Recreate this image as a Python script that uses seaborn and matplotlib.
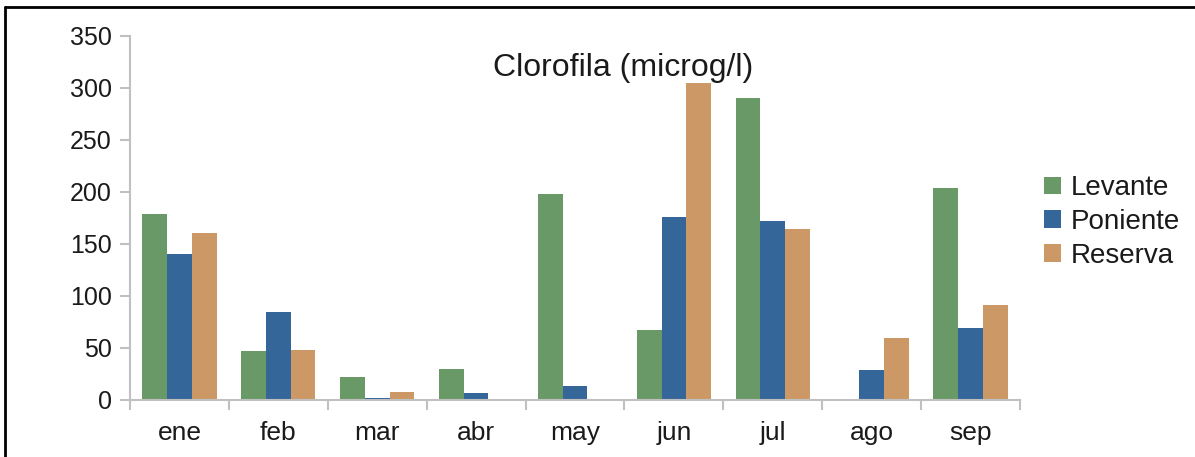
import pandas as pd
import matplotlib.pyplot as plt
import seaborn as sns
from matplotlib.lines import Line2D
from matplotlib.ticker import FixedLocator

meses = ['ene', 'feb', 'mar', 'abr', 'may', 'jun', 'jul', 'ago', 'sep']
levante = [179, 47, 22, 30, 198, 67, 290, 0, 204]
poniente = [140, 84, 2, 6, 13.5, 176, 172, 29, 69]
reserva = [160, 48, 7, 1, 1, 305, 164, 59, 91]
series = ['Levante', 'Poniente', 'Reserva']
colores = ['#699966', '#356699', '#CC9966']

# long format table for seaborn
df = pd.DataFrame({
    'mes': meses * 3,
    'serie': [s for s in series for _ in meses],
    'valor': levante + poniente + reserva,
})

sns.set_style('white')
plt.rcParams['font.family'] = ['Liberation Sans', 'DejaVu Sans']

fig = plt.figure(figsize=(11.95, 4.57), dpi=100)
W, H = 1195, 457
ax = fig.add_axes([130 / W, 1 - 399.7 / H, (1020 - 130) / W, (399.7 - 36) / H])

sns.barplot(data=df, x='mes', y='valor', hue='serie', palette=colores,
            width=0.75, gap=0, linewidth=0, saturation=1, ax=ax)

ax.set_ylim(0, 350)
ax.set_xlim(-0.5, len(meses) - 0.5)
ax.set_yticks(range(0, 351, 50))
ax.set_xlabel('')
ax.set_ylabel('')

gris = '#c0c0c0'
for lado in ['top', 'right']:
    ax.spines[lado].set_visible(False)
for lado in ['left', 'bottom']:
    ax.spines[lado].set_color(gris)
    ax.spines[lado].set_linewidth(1.5)

ax.tick_params(axis='y', length=7, width=1.5, color=gris, pad=6,
               labelsize=18, labelcolor='#1a1a1a', left=True)
ax.tick_params(axis='x', which='major', length=0, pad=15,
               labelsize=19, labelcolor='#1a1a1a')
ax.xaxis.set_minor_locator(FixedLocator([i - 0.5 for i in range(len(meses) + 1)]))
ax.tick_params(axis='x', which='minor', length=7, width=1.5, color=gris, bottom=True)

fig.text(623 / W, 1 - 68 / H, 'Clorofila (microg/l)', ha='center', va='center',
         fontsize=23, color='#1a1a1a')

handles, labels = ax.get_legend_handles_labels()
ax.legend_.remove()
fig.legend(handles, labels, loc='center left', bbox_to_anchor=(1019 / W, 1 - 222 / H),
           frameon=False, fontsize=20, handlelength=0.6, handleheight=0.6,
           handletextpad=0.35, labelspacing=0.28, labelcolor='#1a1a1a')

# marco negro del recuadro original
fig.add_artist(Line2D([5 / W, 5 / W], [0, 1 - 6.5 / H], transform=fig.transFigure,
                      color='black', linewidth=2))
fig.add_artist(Line2D([5 / W, 1], [1 - 6.5 / H, 1 - 6.5 / H], transform=fig.transFigure,
                      color='black', linewidth=2))

fig.savefig('out.png', dpi=100)
plt.close(fig)
